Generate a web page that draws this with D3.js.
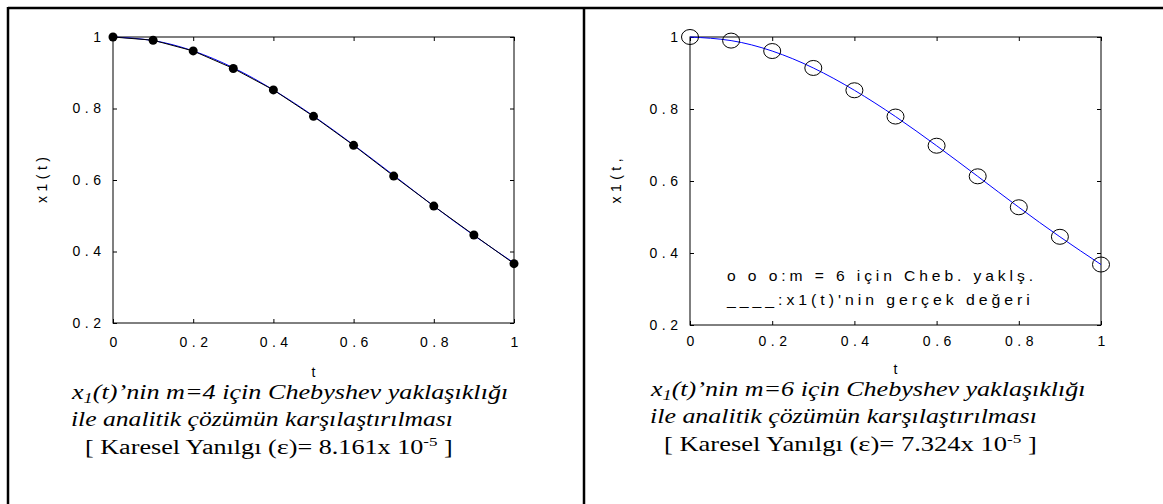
<!DOCTYPE html>
<html>
<head>
<meta charset="utf-8">
<script src="https://cdn.jsdelivr.net/npm/d3@7"></script>
<style>
  body { margin: 0; background: #fff; }
  svg text { font-family: "Liberation Sans", Arial, sans-serif; fill: #000; }
  svg text.cap { font-family: "Liberation Serif", "Times New Roman", serif; }
</style>
</head>
<body>
<svg id="fig" width="1163" height="504"></svg>
<script>
// values
var tVals = [0, 0.1, 0.2, 0.3, 0.4, 0.5, 0.6, 0.7, 0.8, 0.9, 1];
var exact = [1, 0.990, 0.961, 0.914, 0.852, 0.779, 0.698, 0.613, 0.527, 0.445, 0.368];
var cheb4 = [1, 0.991, 0.961, 0.912, 0.852, 0.778, 0.697, 0.611, 0.527, 0.446, 0.366];
var cheb6 = [1, 0.990, 0.961, 0.914, 0.852, 0.779, 0.698, 0.613, 0.527, 0.445, 0.368];
var xTicks = [0, 0.2, 0.4, 0.6, 0.8, 1];
var yTicks = [0.2, 0.4, 0.6, 0.8, 1];
var xTickLabels = ['0', '0.2', '0.4', '0.6', '0.8', '1'];
var yTickLabels = ['0.2', '0.4', '0.6', '0.8', '1'];
var legendLines = ['o o o:m = 6 için Cheb. yaklş.', '____:x1(t)\'nin gerçek değeri'];

var LS = 4.5; // letter spacing of the plot texts

var svg = d3.select('#fig');

// table frame
svg.append('line').attr('x1', 8).attr('x2', 1163).attr('y1', 8).attr('y2', 8)
  .attr('stroke', '#000').attr('stroke-width', 2.5);
svg.append('line').attr('x1', 8).attr('x2', 8).attr('y1', 7).attr('y2', 504)
  .attr('stroke', '#000').attr('stroke-width', 2.5);
svg.append('line').attr('x1', 584).attr('x2', 584).attr('y1', 7).attr('y2', 504)
  .attr('stroke', '#000').attr('stroke-width', 2.5);

// stretch a text sideways so it covers [x0, x1]
function fit(sel, x0, x1, y) {
  var w = sel.node().getBBox().width;
  sel.attr('transform', 'translate(' + x0 + ',' + y + ') scale(' + ((x1 - x0) / w) + ',1)');
}

function panel(o) {
  var x = d3.scaleLinear().domain([0, 1]).range([o.x0, o.x1]);
  var y = d3.scaleLinear().domain([0.2, 1]).range([o.y0, o.y1]);
  var g = svg.append('g');

  var fmtX = function(d, i) { return xTickLabels[i]; };
  var fmtY = function(d, i) { return yTickLabels[i]; };

  g.append('g').attr('class', 'xa').attr('transform', 'translate(0,' + o.y0 + ')')
    .call(d3.axisBottom(x).tickValues(xTicks).tickFormat(fmtX).tickSize(-4).tickPadding(o.xPad));
  g.append('g').attr('class', 'ya').attr('transform', 'translate(' + o.x0 + ',0)')
    .call(d3.axisLeft(y).tickValues(yTicks).tickFormat(fmtY).tickSize(-4).tickPadding(12));
  g.append('g').attr('transform', 'translate(0,' + o.y1 + ')')
    .call(d3.axisTop(x).tickValues(xTicks).tickFormat('').tickSize(-4));
  g.append('g').attr('transform', 'translate(' + o.x1 + ',0)')
    .call(d3.axisRight(y).tickValues(yTicks).tickFormat('').tickSize(-4));
  g.selectAll('.domain').remove();
  g.selectAll('.tick line').attr('stroke', '#000').attr('stroke-width', 1);
  g.selectAll('.tick text').attr('font-size', 14).attr('font-family', null)
    .style('letter-spacing', LS + 'px');
  g.selectAll('.xa .tick text').attr('dx', LS / 2);
  g.selectAll('.ya .tick text').attr('dx', LS);

  g.append('rect').attr('x', o.x0).attr('y', o.y1)
    .attr('width', o.x1 - o.x0).attr('height', o.y0 - o.y1)
    .attr('fill', 'none').attr('stroke', '#000').attr('stroke-width', 1);

  var smooth = d3.line().x(function(d, i) { return x(tVals[i]); })
    .y(function(d) { return y(d); }).curve(d3.curveNatural);
  var straight = d3.line().x(function(d, i) { return x(tVals[i]); })
    .y(function(d) { return y(d); });

  g.append('path').datum(exact).attr('d', smooth)
    .attr('fill', 'none').attr('stroke', '#0000ff').attr('stroke-width', 1);

  if (o.filled) {
    g.append('path').datum(o.approx).attr('d', straight)
      .attr('fill', 'none').attr('stroke', '#000').attr('stroke-width', 1);
    g.selectAll('circle.pt').data(o.approx).enter().append('circle')
      .attr('cx', function(d, i) { return x(tVals[i]); })
      .attr('cy', function(d) { return y(d); })
      .attr('r', 4.5).attr('fill', '#000');
  } else {
    g.selectAll('ellipse.pt').data(o.approx).enter().append('ellipse')
      .attr('cx', function(d, i) { return x(tVals[i]); })
      .attr('cy', function(d) { return y(d); })
      .attr('rx', 8.5).attr('ry', 7.5).attr('fill', 'none')
      .attr('stroke', '#000').attr('stroke-width', 1);
  }

  // axis titles
  g.append('text').attr('x', (o.x0 + o.x1) / 2).attr('y', o.tY)
    .attr('text-anchor', 'middle').attr('font-size', 14).text('t');
  g.append('text')
    .attr('transform', 'translate(' + o.yLabX + ',' + ((o.y0 + o.y1) / 2) + ') rotate(-90)')
    .attr('text-anchor', 'middle').attr('font-size', 14).attr('dx', LS / 2)
    .style('letter-spacing', LS + 'px').text(o.yLabel);

  if (o.legend) {
    legendLines.forEach(function(s, i) {
      var t = g.append('text').attr('x', 0).attr('y', 0)
        .attr('font-size', 14).style('letter-spacing', '3.5px').text(s);
      fit(t, o.x0 + 37, o.x0 + 347 - i * 2, 281 + i * 24);
    });
  }

  // caption below the plot
  var c1 = g.append('text').attr('class', 'cap')
    .attr('font-size', 20).attr('font-style', 'italic');
  c1.append('tspan').text('x');
  c1.append('tspan').attr('font-size', 14).attr('dy', 4).text('1');
  c1.append('tspan').attr('dy', -4).text('(t)’nin m=' + o.m + ' için Chebyshev yaklaşıklığı');
  fit(c1, o.cap[0], o.cap[1], o.capY);

  var c2 = g.append('text').attr('class', 'cap')
    .attr('font-size', 20).attr('font-style', 'italic')
    .text('ile analitik çözümün karşılaştırılması');
  fit(c2, o.cap[0] - 1, o.cap[2], o.capY + 27);

  var c3 = g.append('text').attr('class', 'cap').attr('font-size', 20);
  c3.append('tspan').text('[ Karesel Yanılgı (');
  c3.append('tspan').attr('font-size', 22).text('ε');
  c3.append('tspan').text(')= ' + o.err + 'x 10');
  c3.append('tspan').attr('font-size', 13).attr('dy', -8).text('-5');
  c3.append('tspan').attr('dy', 8).text(' ]');
  fit(c3, o.cap[0] + 13, o.cap[2], o.capY + 55);
}

panel({ x0: 113, x1: 514, y0: 323, y1: 37, yLabX: 47, yLabel: 'x1(t)',
  approx: cheb4, filled: true, legend: false, xPad: 14, tY: 377,
  cap: [72, 510, 453], capY: 399, m: 4, err: '8.161' });
panel({ x0: 690, x1: 1101, y0: 325, y1: 37, yLabX: 621, yLabel: 'x1(t,',
  approx: cheb6, filled: false, legend: true, xPad: 11, tY: 374,
  cap: [651, 1087, 1037], capY: 396, m: 6, err: '7.324' });
</script>
</body>
</html>
